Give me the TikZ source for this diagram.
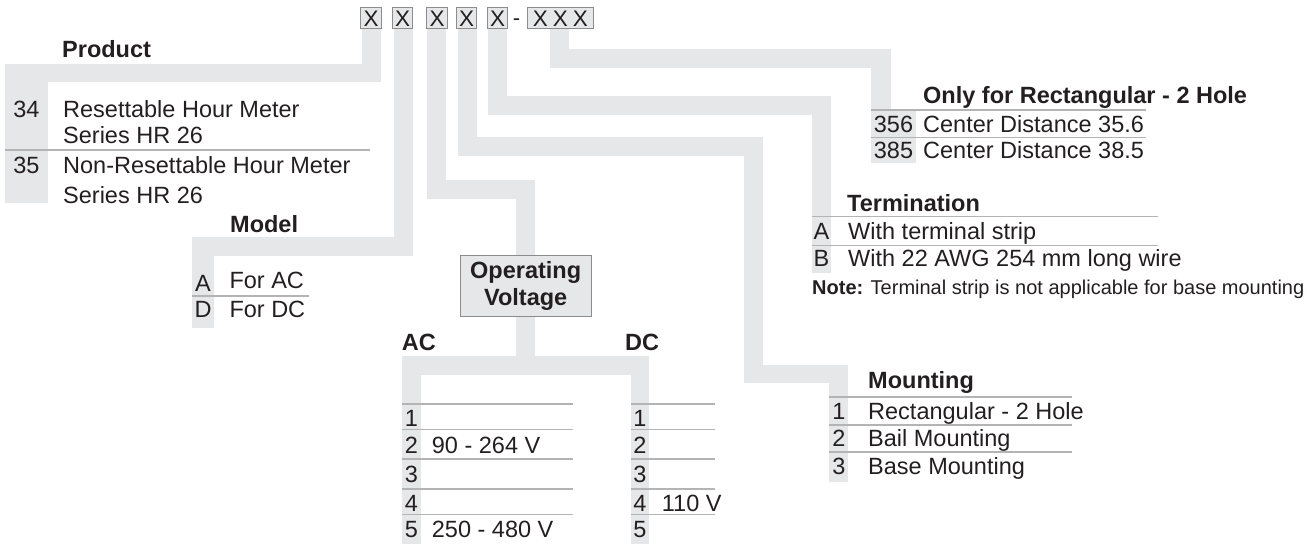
\documentclass[tikz,border=0pt]{standalone}
\usepackage{fontspec}
\setmainfont{Liberation Sans}
\definecolor{stripgrey}{HTML}{E6E7E8}
\definecolor{rulegrey}{HTML}{B4B4B4}
\definecolor{boxedge}{HTML}{8C8C8C}
\definecolor{ink}{HTML}{231F20}
\tikzset{
  strip/.style={fill=stripgrey},
  rulel/.style={draw=rulegrey, line width=1.3pt},
  txt/.style={anchor=west, inner sep=0pt, text height=16.8pt, text depth=0pt, text=ink, font=\fontsize{23.5}{27}\selectfont},
  btxt/.style={txt, font=\fontsize{23.5}{27}\selectfont\bfseries},
  num/.style={anchor=center, inner sep=0pt, text height=16.8pt, text depth=0pt, text=ink, font=\fontsize{23.5}{27}\selectfont},
  xbox/.style={draw=boxedge, fill=stripgrey, line width=1pt, inner sep=0pt, text=ink, font=\fontsize{22.5}{26}\selectfont, text height=16.1pt, text depth=0pt, minimum height=21pt, anchor=north west},
}
\begin{document}
\begin{tikzpicture}[x=1pt,y=-1pt]
\useasboundingbox (0,0) rectangle (1307,544);
% ---------- strips ----------
% product
\fill[strip] (362,28) rectangle (381,82);
\fill[strip] (5,64) rectangle (381,82);
\fill[strip] (5,82) rectangle (48,203);
% model
\fill[strip] (394,28) rectangle (413,256);
\fill[strip] (192,237) rectangle (413,256);
\fill[strip] (192,256) rectangle (214,328);
% voltage
\fill[strip] (427,28) rectangle (446,199);
\fill[strip] (427,180) rectangle (535,199);
\fill[strip] (516,199) rectangle (535,256);
\fill[strip] (516,316) rectangle (535,375);
\fill[strip] (402,356) rectangle (649,375);
\fill[strip] (402,375) rectangle (421,544);
\fill[strip] (631,375) rectangle (649,544);
% mounting
\fill[strip] (458,28) rectangle (477,156);
\fill[strip] (458,137) rectangle (763,156);
\fill[strip] (744,156) rectangle (763,383);
\fill[strip] (744,365) rectangle (848,383);
\fill[strip] (829,383) rectangle (848,482);
% termination
\fill[strip] (488,28) rectangle (507,115);
\fill[strip] (488,96) rectangle (831,115);
\fill[strip] (812,115) rectangle (831,273);
% center distance
\fill[strip] (550,28) rectangle (569,68);
\fill[strip] (550,49) rectangle (891,68);
\fill[strip] (871,68) rectangle (891,110);
\fill[strip] (871,110) rectangle (916,163);
% ---------- rules ----------
\draw[rulel] (5,150) -- (370,150);
\draw[rulel] (192,296) -- (309,296);
\foreach \yy in {404,429.5,459,489,514.5} {
  \draw[rulel] (402,\yy) -- (573,\yy);
  \draw[rulel] (631,\yy) -- (715,\yy);
}
\foreach \yy in {397,425,452} \draw[rulel] (829,\yy) -- (1072,\yy);
\foreach \yy in {216.7,245.7} \draw[rulel] (812,\yy) -- (1158,\yy);
\foreach \yy in {110,137.3} \draw[rulel] (871,\yy) -- (1146,\yy);
% ---------- code boxes ----------
\node[xbox, minimum width=21pt] (b1) at (360,7.3) {X};
\node[xbox, minimum width=20pt] (b2) at (392,7.3) {X};
\node[xbox, minimum width=21pt] (b3) at (426,7.3) {X};
\node[xbox, minimum width=20pt] (b4) at (456,7.3) {X};
\node[xbox, minimum width=20pt] (b5) at (487,7.3) {X};
\node[txt, anchor=center, font=\fontsize{22}{26}\selectfont] (dash) at (516.5,17.5) {-};
\node[xbox, minimum width=66pt] (b6) at (527,7.3) {X\hspace{5pt}X\hspace{5pt}X};
% ---------- product ----------
\node[btxt] (prodh) at (62,49.5) {Product};
\node[num] (p34) at (26.5,109) {34};
\node[txt] (p34a) at (63,109) {Resettable Hour Meter};
\node[txt] (p34b) at (63,135) {Series HR 26};
\node[num] (p35) at (26.5,164.7) {35};
\node[txt] (p35a) at (63,164.7) {Non-Resettable Hour Meter};
\node[txt] (p35b) at (63,194.7) {Series HR 26};
% ---------- model ----------
\node[btxt] (modh) at (230,224.5) {Model};
\node[num] (mA) at (203,283) {A};
\node[txt] (mAt) at (229.3,280) {For AC};
\node[num] (mD) at (203,308.7) {D};
\node[txt] (mDt) at (229.3,308.7) {For DC};
% ---------- operating voltage ----------
\node[draw=boxedge, fill=stripgrey, line width=1pt, minimum width=131pt, minimum height=61pt, inner sep=0pt, align=center, text=ink, font=\fontsize{23.5}{26.6}\selectfont\bfseries] (ov) at (525.7,286) {Operating\\Voltage};
\node[btxt] (ach) at (401.7,341.7) {AC};
\node[btxt] (dch) at (625,341.7) {DC};
\foreach \n/\yy in {1/418.3,2/445,3/474,4/502.7,5/529.3} {
  \node[num] (ac\n) at (411.5,\yy) {\n};
  \node[num] (dc\n) at (640,\yy) {\n};
}
\node[txt] (ac2t) at (431.7,445) {90 - 264 V};
\node[txt] (ac5t) at (431.7,529.3) {250 - 480 V};
\node[txt] (dc4t) at (661.7,502.7) {110 V};
% ---------- mounting ----------
\node[btxt] (mnth) at (868,380) {Mounting};
\node[num] (mn1) at (839,410.7) {1};
\node[txt] (mn1t) at (868,410.7) {Rectangular - 2 Hole};
\node[num] (mn2) at (839,438.3) {2};
\node[txt] (mn2t) at (868,438.3) {Bail Mounting};
\node[num] (mn3) at (839,465.7) {3};
\node[txt] (mn3t) at (868,465.7) {Base Mounting};
% ---------- termination ----------
\node[btxt] (termh) at (847,203) {Termination};
\node[num] (tA) at (821.5,230.7) {A};
\node[txt] (tAt) at (848,230.7) {With terminal strip};
\node[num] (tB) at (821.5,258.3) {B};
\node[txt] (tBt) at (848,258.3) {With 22 AWG 254 mm long wire};
\node[txt, font=\fontsize{20}{24}\selectfont, text height=14.3pt] (note) at (812,287.3) {\textbf{Note:} Terminal strip is not applicable for base mounting};
% ---------- center distance ----------
\node[btxt] (rech) at (923,95) {Only for Rectangular - 2 Hole};
\node[num] (r356) at (893.5,124) {356};
\node[txt] (r356t) at (923,124) {Center Distance 35.6};
\node[num] (r385) at (893.5,150.5) {385};
\node[txt] (r385t) at (923,150.5) {Center Distance 38.5};
\end{tikzpicture}
\end{document}
